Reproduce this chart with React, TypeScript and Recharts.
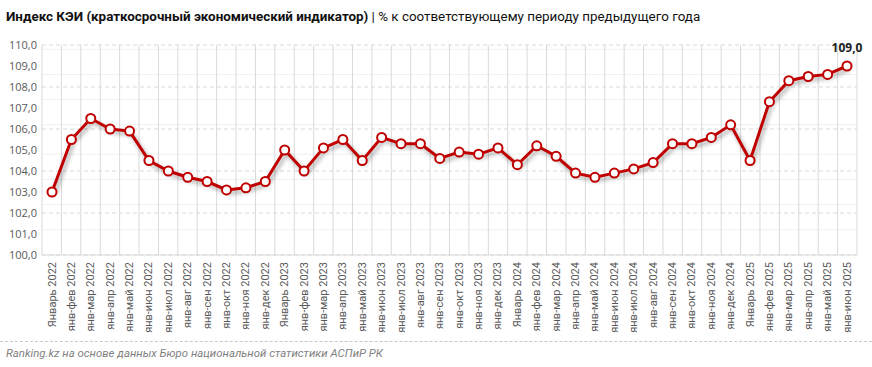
import { CartesianGrid, Line, LineChart, XAxis, YAxis } from "recharts";

const months = [
  "Январь 2022", "янв-фев 2022", "янв-мар 2022", "янв-апр 2022", "янв-май 2022", "янв-июн 2022",
  "янв-июл 2022", "янв-авг 2022", "янв-сен 2022", "янв-окт 2022", "янв-ноя 2022", "янв-дек 2022",
  "Январь 2023", "янв-фев 2023", "янв-мар 2023", "янв-апр 2023", "янв-май 2023", "янв-июн 2023",
  "янв-июл 2023", "янв-авг 2023", "янв-сен 2023", "янв-окт 2023", "янв-ноя 2023", "янв-дек 2023",
  "Январь 2024", "янв-фев 2024", "янв-мар 2024", "янв-апр 2024", "янв-май 2024", "янв-июн 2024",
  "янв-июл 2024", "янв-авг 2024", "янв-сен 2024", "янв-окт 2024", "янв-ноя 2024", "янв-дек 2024",
  "Январь 2025", "янв-фев 2025", "янв-мар 2025", "янв-апр 2025", "янв-май 2025", "янв-июн 2025"
];

const kei = [
  103.0, 105.5, 106.5, 106.0, 105.9, 104.5, 104.0, 103.7, 103.5, 103.1, 103.2, 103.5,
  105.0, 104.0, 105.1, 105.5, 104.5, 105.6, 105.3, 105.3, 104.6, 104.9, 104.8, 105.1,
  104.3, 105.2, 104.7, 103.9, 103.7, 103.9, 104.1, 104.4, 105.3, 105.3, 105.6, 106.2,
  104.5, 107.3, 108.3, 108.5, 108.6, 109.0
];

const yTicks = [100, 101, 102, 103, 104, 105, 106, 107, 108, 109, 110];

const rows = months.map((m, i) => ({ m, v: kei[i] }));
const last = rows.length - 1;

// light minor lines every 0.2
const minorValues: number[] = [];
for (let i = 1; i < 50; i++) if (i % 5 !== 0) minorValues.push(100 + i * 0.2);

const fmt = (v: number) => v.toFixed(1).replace(".", ",");

const XTick = ({ x, y, payload }: any) => (
  <text
    x={x}
    y={y}
    transform={`rotate(-90 ${x} ${y})`}
    textAnchor="end"
    dominantBaseline="central"
    fontSize={11}
    fontFamily="Roboto, sans-serif"
    fill="#595959"
  >
    {payload.value}
  </text>
);

const LastLabel = (p: any) => {
  if (p.index !== last) return <g />;
  return (
    <text
      x={p.x}
      y={p.y - 14}
      textAnchor="middle"
      fontSize={12}
      fontWeight="bold"
      fontFamily="'Open Sans', sans-serif"
      fill="#222"
    >
      {fmt(p.value)}
    </text>
  );
};

export default function App() {
  return (
    <div style={{ position: "absolute", left: 0, top: 0, width: 872, height: 367, background: "#fff" }}>
      <style>{`.kei-line .recharts-line-curve, .kei-line .recharts-line-dots { filter: drop-shadow(2px 3px 2px rgba(0,0,0,0.35)); }`}</style>
      <div
        style={{
          position: "absolute",
          left: 6,
          top: 9,
          fontFamily: "Roboto, sans-serif",
          fontSize: 13.4,
          color: "#111",
          whiteSpace: "nowrap"
        }}
      >
        <b>Индекс КЭИ (краткосрочный экономический индикатор)</b> | % к соответствующему периоду предыдущего года
      </div>
      <LineChart width={872} height={367} data={rows} margin={{ top: 45, right: 15, bottom: 32, left: 4 }}>
        <CartesianGrid horizontalValues={minorValues} vertical={false} stroke="#f0f0f0" />
        <CartesianGrid
          horizontal={false}
          stroke="#d9d9d9"
          verticalCoordinatesGenerator={({ offset }: any) =>
            Array.from({ length: rows.length + 1 }, (_, i) => offset.left + (i * offset.width) / rows.length)
          }
        />
        <CartesianGrid vertical={false} stroke="#d9d9d9" strokeDasharray="4 3" />
        <XAxis
          dataKey="m"
          interval={0}
          height={80}
          padding={{ left: 10, right: 10 }}
          tickSize={0}
          tickMargin={7}
          tick={<XTick />}
          axisLine={{ stroke: "#d9d9d9" }}
        />
        <YAxis
          domain={[100, 110]}
          ticks={yTicks}
          width={38}
          tickSize={0}
          tickMargin={5}
          axisLine={false}
          tickFormatter={fmt}
          tick={{ fontSize: 11, fill: "#595959", fontFamily: "'Open Sans', sans-serif" }}
        />
        <Line
          className="kei-line"
          dataKey="v"
          stroke="#C00000"
          strokeWidth={3}
          dot={{ r: 4.5, fill: "#fff", stroke: "#C00000", strokeWidth: 2 }}
          label={LastLabel}
          isAnimationActive={false}
        />
      </LineChart>
      <div style={{ position: "absolute", left: 0, right: 0, top: 341, borderTop: "1px dashed #c8c8c8" }} />
      <div
        style={{
          position: "absolute",
          left: 6,
          top: 346,
          fontFamily: "Roboto, sans-serif",
          fontStyle: "italic",
          fontSize: 11.4,
          color: "#7f7f7f",
          whiteSpace: "nowrap"
        }}
      >
        Ranking.kz на основе данных Бюро национальной статистики АСПиР РК
      </div>
    </div>
  );
}
